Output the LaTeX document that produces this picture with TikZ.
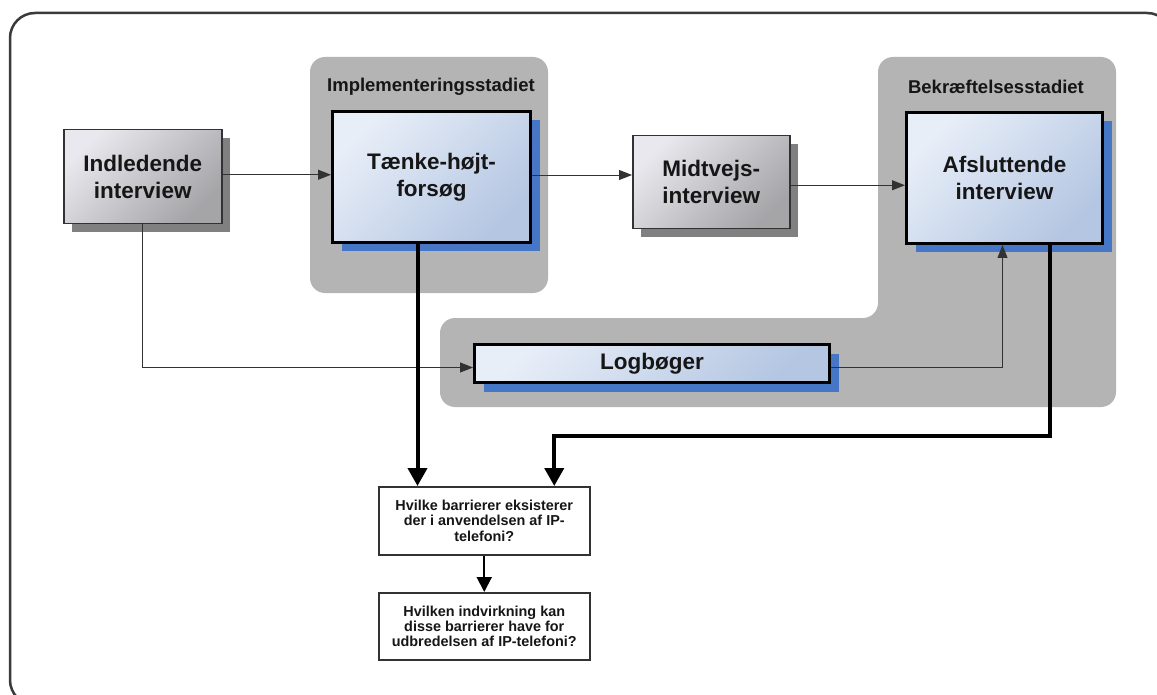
\documentclass[tikz,border=0pt]{standalone}
\usepackage{fontspec}
\setmainfont{Liberation Sans}
\newfontfamily\labfont{Liberation Sans}
\usetikzlibrary{arrows.meta,shadows,calc}
\definecolor{grp}{RGB}{180,180,180}
\definecolor{bluetl}{RGB}{232,238,248}
\definecolor{bluebr}{RGB}{180,198,226}
\definecolor{shblue}{RGB}{70,118,198}
\definecolor{graytl}{RGB}{232,232,238}
\definecolor{graybr}{RGB}{165,165,168}
\definecolor{shgray}{RGB}{128,128,128}
\definecolor{txt}{RGB}{22,22,22}
\definecolor{frame}{RGB}{58,58,58}
\definecolor{thinc}{RGB}{50,50,50}
\begin{document}
\begin{tikzpicture}[x=1pt,y=-1pt,
  groupbg/.style={fill=grp, draw=none, rounded corners=15pt},
  grouptitle/.style={font=\labfont\bfseries\fontsize{18.5}{20}\selectfont, text=txt, inner sep=0pt},
  bluebox/.style={draw=black, line width=3pt, top color=bluetl, bottom color=bluebr, shading angle=45,
    drop shadow={shadow xshift=9pt, shadow yshift=-9pt, fill=shblue, opacity=1},
    font=\labfont\bfseries\fontsize{22.5}{27}\selectfont, text=txt, align=center, inner sep=0pt, anchor=north west},
  graybox/.style={draw=thinc, line width=1.5pt, top color=graytl, bottom color=graybr, shading angle=45,
    drop shadow={shadow xshift=8pt, shadow yshift=-8pt, fill=shgray, opacity=1},
    font=\labfont\bfseries\fontsize{22.5}{27}\selectfont, text=txt, align=center, inner sep=0pt, anchor=north west},
  qbox/.style={draw=thinc, line width=1.5pt, fill=white,
    font=\labfont\bfseries\fontsize{14.4}{15.2}\selectfont, text=txt, align=center, inner sep=0pt, anchor=north west},
  thinarrow/.style={draw=thinc, line width=0.9pt, -{Triangle[length=13pt,width=10pt]}},
  thickarrow/.style={draw=black, line width=4pt, -{Triangle[length=18pt,width=19pt]}},
  midarrow/.style={draw=black, line width=2pt, -{Triangle[length=15pt,width=15pt]}}
]
\useasboundingbox (0,0) rectangle (1157,695);
\clip (0,0) rectangle (1157,695);
\fill[white] (0,0) rectangle (1157,695);
\draw[frame, line width=2.5pt, rounded corners=25pt] (10,13) rectangle (1172,705);

% groups
\path[groupbg] (310,57) rectangle (548,293);
\path[groupbg] (878,57) -- (1116,57) -- (1116,407) -- (440,407) -- (440,318) -- (878,318) -- cycle;
\node[grouptitle] (t1) at (431,87) {Implementeringsstadiet};
\node[grouptitle] (t2) at (996,87) {Bekræftelsesstadiet};

% boxes
\node[graybox, minimum width=158pt, minimum height=94pt] (ind) at (63,129) {Indledende\\interview};
\node[bluebox, minimum width=198pt, minimum height=131pt] (tank) at (331,110) {Tænke-højt-\\forsøg};
\node[graybox, minimum width=157pt, minimum height=93pt] (mid) at (632,135) {Midtvejs-\\interview};
\node[bluebox, minimum width=196pt, minimum height=131pt] (afs) at (905,111) {Afsluttende\\interview};
\node[bluebox, minimum width=355pt, minimum height=38pt] (log) at (473,343) {Logbøger};
\node[qbox, minimum width=211pt, minimum height=68pt] (q1) at (378,486) {Hvilke barrierer eksisterer\\der i anvendelsen af IP-\\telefoni?};
\node[qbox, minimum width=211pt, minimum height=67pt] (q2) at (378,592) {Hvilken indvirkning kan\\disse barrierer have for\\udbredelsen af IP-telefoni?};

% connectors
\draw[thinarrow] ([yshift=2pt]ind.east) -- ([yshift=2pt]ind.east -| tank.west);
\draw[thinarrow] ([yshift=2pt]tank.east) -- ([yshift=2pt]tank.east -| mid.west);
\draw[thinarrow] ([yshift=-3pt]mid.east) -- ([yshift=-3pt]mid.east -| afs.west);
\draw[thinarrow] (ind.south) |- ([yshift=-4pt]log.west);
\draw[thinarrow] ([yshift=-4pt]log.east) -| ([xshift=-2pt]afs.south);
\draw[thickarrow] ([xshift=-14pt]tank.south) -- ([xshift=-14pt]tank.south |- q1.north);
\draw[thickarrow] ([xshift=45pt]afs.south) -- ++(0,191) -| ([xshift=70pt]q1.north);
\draw[midarrow] (q1.south) -- (q2.north);
\end{tikzpicture}
\end{document}
